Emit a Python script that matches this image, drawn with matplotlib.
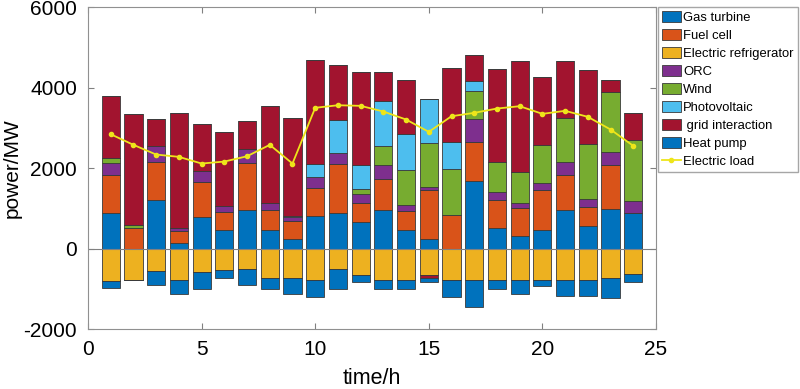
import numpy as np
import matplotlib.pyplot as plt

plt.rcParams['font.family'] = ['Liberation Sans', 'DejaVu Sans']
plt.rcParams['axes.unicode_minus'] = False

hours = np.arange(1, 25)

# stacked components (MW)
gas_turbine = [877, 0, 1200, 149, 788, 455, 961, 472, 248, 812, 877, 663,
               952, 464, 248, 0, 1682, 514, 306, 455, 961, 564, 977, 887]
fuel_cell = [944, 522, 954, 281, 860, 457, 1168, 497, 430, 696, 1217, 472,
             787, 473, 1201, 837, 976, 703, 705, 1011, 860, 479, 1093, 0]
refrigerator = [-795, -778, -547, -770, -589, -522, -505, -720, -738, -788, -505, -663,
                -770, -770, -663, -788, -788, -788, -788, -788, -788, -788, -738, -621]
orc = [308, 0, 405, 84, 282, 139, 348, 166, 109, 281, 284, 231,
       331, 149, 84, 0, 572, 192, 132, 166, 333, 192, 332, 298]
wind = [114, 74, 0, 0, 0, 0, 0, 0, 0, 0, 0, 117,
        481, 860, 1101, 1143, 695, 745, 762, 935, 1084, 1374, 1491, 1506]
pv = [0, 0, 0, 0, 0, 0, 0, 0, 33, 315, 819, 587,
      1109, 894, 1093, 661, 241, 0, 0, 0, 0, 0, 0, 0]
grid = [1558, 2758, 663, 2857, 1158, 1839, 703, 2418, 2427, 2584, 1357, 2310,
        720, 1359, -75, 1839, 654, 2318, 2749, 1706, 1433, 1838, 298, 680]
heat_pump = [-174, 0, -355, -365, -413, -206, -397, -282, -397, -412, -497, -173,
             -232, -232, -98, -412, -661, -214, -347, -148, -388, -397, -497, -199]
load = [2840, 2576, 2335, 2278, 2112, 2161, 2293, 2576, 2112, 3496, 3560, 3545,
        3404, 3205, 2899, 3287, 3371, 3478, 3536, 3346, 3421, 3272, 2957, 2551]

names = ['Gas turbine', 'Fuel cell', 'Electric refrigerator', 'ORC', 'Wind',
         'Photovoltaic', ' grid interaction', 'Heat pump']
series = [gas_turbine, fuel_cell, refrigerator, orc, wind, pv, grid, heat_pump]
colors = ['#0072BD', '#D95319', '#EDB120', '#7E2F8E', '#77AC30',
          '#4DBEEE', '#A2142F', '#0072BD']

fig = plt.figure(figsize=(8, 3.89), dpi=100)
ax = fig.add_axes([0.11, 0.154, 0.71, 0.828])

pos_base = np.zeros(len(hours))
neg_base = np.zeros(len(hours))
handles = []
for vals, name, c in zip(series, names, colors):
    v = np.array(vals, dtype=float)
    pos = np.where(v > 0, v, 0)
    neg = np.where(v < 0, v, 0)
    h = ax.bar(hours, pos, 0.8, bottom=pos_base, color=c, edgecolor='#3a3a3a',
               linewidth=0.6, label=name)
    ax.bar(hours, neg, 0.8, bottom=neg_base, color=c, edgecolor='#3a3a3a',
           linewidth=0.6)
    pos_base += pos
    neg_base += neg
    handles.append(h)

ln, = ax.plot(hours, load, '-o', color='#EEE51A', markersize=3, linewidth=1.3,
              label='Electric load')
handles.append(ln)

ax.axhline(0, color='#808080', linewidth=0.8)
ax.set_xlim(0, 25)
ax.set_ylim(-2000, 6000)
ax.set_xticks([0, 5, 10, 15, 20, 25])
ax.set_yticks([-2000, 0, 2000, 4000, 6000])
ax.tick_params(direction='in', top=True, right=True, labelsize=15,
               color='#808080', length=4, pad=8)
for s in ax.spines.values():
    s.set_color('#909090')
ax.set_xlabel('time/h', fontsize=15.5, labelpad=6)
ax.set_ylabel('power/MW', fontsize=15, labelpad=1)

fig.legend(handles=handles, loc='upper left', bbox_to_anchor=(0.823, 0.983),
           fontsize=9.4, frameon=True, fancybox=False, edgecolor='#909090',
           handlelength=1.4, handleheight=1.0, handletextpad=0.2,
           labelspacing=0.36, borderpad=0.3, borderaxespad=0)

fig.savefig('out.png', dpi=100)
